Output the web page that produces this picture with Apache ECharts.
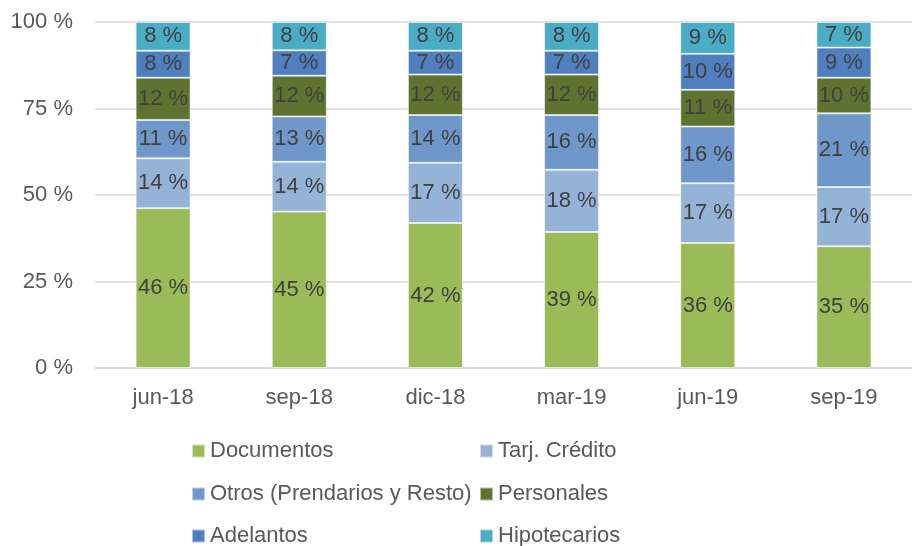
<!DOCTYPE html>
<html>
<head>
<meta charset="utf-8">
<script src="https://cdn.jsdelivr.net/npm/echarts@6/dist/echarts.min.js"></script>
<style>
    html, body { margin: 0; padding: 0; background: #fff; }
    #main { width: 912px; height: 546px; }
</style>
</head>
<body>
<div id="main"></div>
<script>
// categorias (trimestres)
var periodos = ['jun-18', 'sep-18', 'dic-18', 'mar-19', 'jun-19', 'sep-19'];
// participacion de cada linea en el total (%)
var documentos   = [46.2, 45.2, 41.9, 39.3, 36.1, 35.2];
var tarjCredito  = [14.4, 14.4, 17.4, 18.0, 17.3, 17.1];
var otros        = [11.1, 13.1, 13.8, 15.8, 16.4, 21.3];
var personales   = [12.2, 11.8, 11.7, 11.7, 10.6, 10.3];
var adelantos    = [7.8, 7.3, 6.9, 6.9, 10.4, 8.7];
var hipotecarios = [8.3, 8.2, 8.3, 8.3, 9.2, 7.4];
var ticksY = [0, 25, 50, 75, 100];

var fuente = 'Liberation Sans, Arial, sans-serif';

var myChart = echarts.init(document.getElementById('main'));

function serie(nombre, datos, color) {
    return {
        name: nombre,
        type: 'bar',
        stack: 'total',
        barWidth: 55,
        data: datos,
        itemStyle: {
            color: color,
            borderColor: 'rgba(255,255,255,0.55)',
            borderWidth: 1
        },
        label: {
            show: true,
            position: 'inside',
            color: '#404040',
            fontSize: 22,
            fontFamily: fuente,
            formatter: function (p) {
                return Math.round(p.value) + ' %';
            }
        }
    };
}

// una leyenda por item para fijar las dos columnas
function leyenda(nombre, x, y) {
    return {
        left: x,
        top: y,
        padding: 0,
        itemWidth: 13,
        itemHeight: 13,
        icon: 'rect',
        textStyle: { fontSize: 22, color: '#595959', fontFamily: fuente },
        data: [nombre]
    };
}

var option = {
    animation: false,
    grid: {
        left: 95,
        top: 22,
        width: 827,
        height: 346
    },
    legend: [
        leyenda('Documentos', 191, 440),
        leyenda('Tarj. Crédito', 479, 440),
        leyenda('Otros (Prendarios y Resto)', 191, 483),
        leyenda('Personales', 479, 483),
        leyenda('Adelantos', 191, 525),
        leyenda('Hipotecarios', 479, 525)
    ],
    xAxis: {
        type: 'category',
        data: periodos,
        axisTick: { show: false },
        axisLine: { lineStyle: { color: '#D9D9D9', width: 1.5 } },
        axisLabel: { color: '#595959', fontSize: 22, fontFamily: fuente, margin: 19 }
    },
    yAxis: {
        type: 'value',
        min: ticksY[0],
        max: ticksY[ticksY.length - 1],
        interval: 25,
        axisLine: { show: false },
        axisTick: { show: false },
        splitLine: { lineStyle: { color: '#D9D9D9', width: 1.5 } },
        axisLabel: { color: '#595959', fontSize: 22, fontFamily: fuente, margin: 22, formatter: '{value} %' }
    },
    series: [
        serie('Documentos', documentos, '#9BBB59'),
        serie('Tarj. Crédito', tarjCredito, '#95B3D7'),
        serie('Otros (Prendarios y Resto)', otros, '#6F97C9'),
        serie('Personales', personales, '#5E7330'),
        serie('Adelantos', adelantos, '#4F7FBE'),
        serie('Hipotecarios', hipotecarios, '#4BACC6')
    ]
};

myChart.setOption(option);
</script>
</body>
</html>
